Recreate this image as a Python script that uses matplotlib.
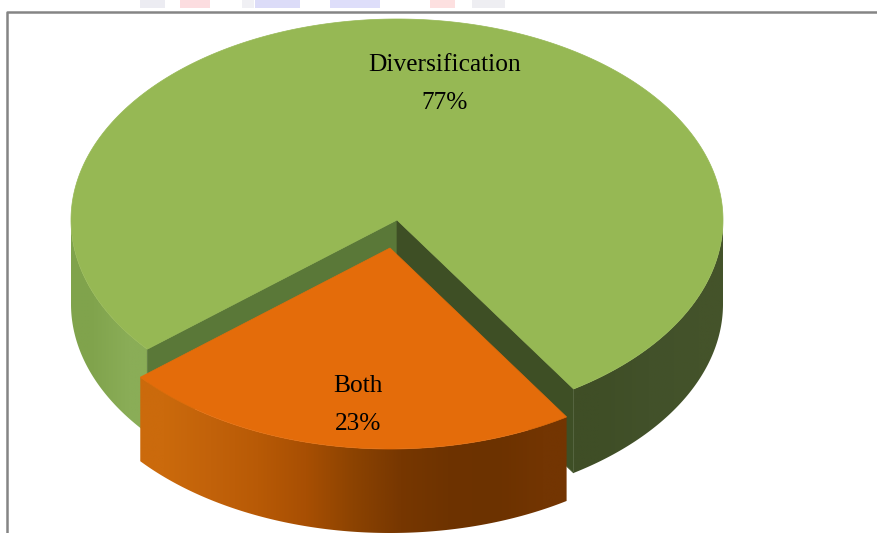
import numpy as np
import matplotlib
matplotlib.use("Agg")
import matplotlib.pyplot as plt
from matplotlib.colors import to_rgb
from matplotlib.patches import Polygon, Rectangle

# Survey shares
categories = ["Diversification", "Both"]
shares = [77, 23]

# Colours
top_colors = ["#96b854", "#e46c0a"]
green_left_wall = ["#80a34c", "#8aad57"]
green_right_wall = ["#3f4e26", "#42512a", "#44532a"]
green_cut_left = "#5a7838"
green_cut_right = "#3e4f25"
orange_wall = ["#cb6a0c", "#c2620a", "#b85a06", "#a84f03", "#8c4301",
               "#773701", "#6e3300", "#6c3200", "#733502"]
frame_color = "#858585"

# Projection of the disc onto the canvas (canvas pixels, y downwards)
CX, CY = 397.0, 220.0
RX, RY = 326.0, 201.0
DEPTH = 84.0
EXPLODE = (-7.0, 28.0)
BOTH_START = -50.0   # angle measured from the front of the disc


def rim(theta, offset=(0.0, 0.0), drop=0.0):
    t = np.radians(np.asarray(theta, dtype=float))
    return np.column_stack([CX + offset[0] + RX * np.sin(t),
                            CY + offset[1] + drop + RY * np.cos(t)])


def draw_wall(ax, start, stop, colors, offset=(0.0, 0.0), z=1):
    """Outer wall of a slice with a smooth left-to-right shading."""
    angles = np.linspace(start, stop, 200)
    outline = np.vstack([rim(angles, offset), rim(angles[::-1], offset, DEPTH)])
    patch = Polygon(outline, closed=True, facecolor="none", edgecolor="none", zorder=z)
    ax.add_patch(patch)
    shade = np.array([[to_rgb(c) for c in colors]])
    x0, x1 = outline[:, 0].min(), outline[:, 0].max()
    y0, y1 = outline[:, 1].min(), outline[:, 1].max()
    img = ax.imshow(shade, extent=(x0, x1, y1, y0), aspect="auto",
                    interpolation="bilinear", zorder=z)
    img.set_clip_path(patch)


both_sweep = shares[1] / sum(shares) * 360.0
both_stop = BOTH_START + both_sweep

fig = plt.figure(figsize=(8.78, 5.33), dpi=100, facecolor="white")
ax = fig.add_axes([0, 0, 1, 1])
ax.axis("off")

# Remains of the page header and the frame around the chart
header = [(140, 25, "#ececf2"), (180, 30, "#fcdde0"), (242, 12, "#f0f0f4"),
          (255, 45, "#dcdcf8"), (330, 50, "#dedefa"), (430, 25, "#fde0e0"),
          (472, 33, "#eeeef2")]
for x0, w, c in header:
    ax.add_patch(Rectangle((x0, 0), w, 8, facecolor=c, edgecolor="none", zorder=0))
ax.plot([7.5, 7.5, 878], [533, 11.5, 11.5], color=frame_color, lw=1.8, zorder=0.5)

# Diversification slice: outer walls, cut faces, then top
draw_wall(ax, -90, BOTH_START, green_left_wall, z=1)
draw_wall(ax, both_stop, 90, green_right_wall, z=1)
apex = np.array([CX, CY])
left_pt = rim([BOTH_START])[0]
right_pt = rim([both_stop])[0]
down = np.array([0, DEPTH])
ax.add_patch(Polygon([apex, left_pt, left_pt + down, apex + down], closed=True,
                     facecolor=green_cut_left, edgecolor=green_cut_left, lw=0.5, zorder=2))
ax.add_patch(Polygon([apex, right_pt, right_pt + down, apex + down], closed=True,
                     facecolor=green_cut_right, edgecolor=green_cut_right, lw=0.5, zorder=2))
ax.add_patch(Polygon(np.vstack([[apex], rim(np.linspace(both_stop, BOTH_START + 360, 400))]),
                     closed=True, facecolor=top_colors[0], edgecolor=top_colors[0],
                     lw=0.5, zorder=3))

# Both slice, pulled out towards the viewer
draw_wall(ax, BOTH_START, both_stop, orange_wall, offset=EXPLODE, z=4)
ax.add_patch(Polygon(np.vstack([[apex + EXPLODE], rim(np.linspace(BOTH_START, both_stop, 200), EXPLODE)]),
                     closed=True, facecolor=top_colors[1], edgecolor=top_colors[1],
                     lw=0.5, zorder=5))

# Slice labels
label_pos = [(445, 84), (358, 405)]
for name, value, (x, y) in zip(categories, shares, label_pos):
    ax.text(x, y, f"{name}\n{value}%", ha="center", va="center", color="black",
            family="Liberation Serif", fontsize=18.3, linespacing=1.95, zorder=6)

ax.set_xlim(0, 878)
ax.set_ylim(533, 0)
fig.savefig("out.png", dpi=100, facecolor="white")
